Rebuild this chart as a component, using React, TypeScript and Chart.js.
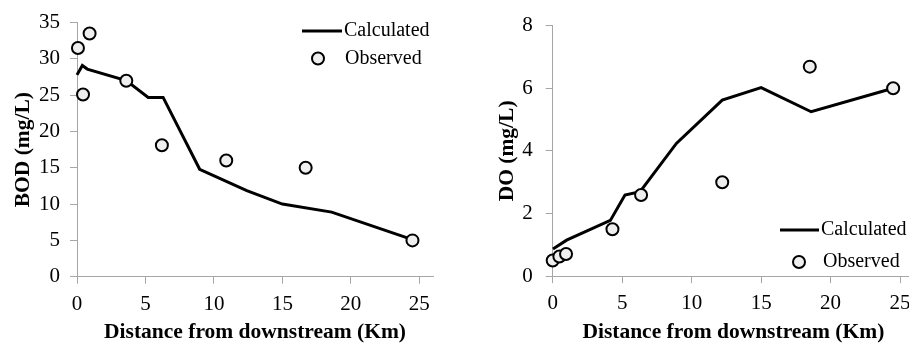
import React, { useEffect, useRef } from 'react';
import { Chart, registerables } from 'chart.js';

Chart.register(...registerables);

// ---- Data ----
const xTickValues = [0, 5, 10, 15, 20, 25];
const bodTickValues = [0, 5, 10, 15, 20, 25, 30, 35];
const doTickValues = [0, 2, 4, 6, 8];

const bodCalcX = [0, 0.39, 0.75, 3.6, 5.2, 6.29, 8.96, 12.4, 15.0, 18.6, 24.5];
const bodCalcY = [27.8, 29.1, 28.6, 27.0, 24.7, 24.7, 14.8, 11.85, 10.0, 8.9, 5.1];
const bodObsX = [0.07, 0.92, 0.44, 3.6, 6.2, 10.9, 16.7, 24.5];
const bodObsY = [31.5, 33.5, 25.1, 27.0, 18.1, 16.0, 15.0, 5.0];

const doCalcX = [0.02, 1.0, 4.15, 5.2, 6.29, 8.9, 12.2, 15.0, 18.6, 24.5];
const doCalcY = [0.87, 1.15, 1.78, 2.59, 2.7, 4.24, 5.62, 6.02, 5.25, 6.0];
const doObsX = [0, 0.48, 0.96, 4.3, 6.36, 12.2, 18.5, 24.5];
const doObsY = [0.5, 0.63, 0.71, 1.5, 2.59, 3.0, 6.69, 6.0];

const FAMILY = "'Liberation Serif', 'Times New Roman', serif";
const AXIS_GRAY = '#A6A6A6';
const MARKER_FILL = '#EFEFEF';
const TICK_SIZE = 21;
const LEGEND_SIZE = 20;

const legendPlugin = {
  id: 'simpleLegend',
  afterDatasetsDraw(chart: any, _args: any, opts: any) {
    if (!opts || !opts.items) return;
    const ctx = chart.ctx;
    ctx.save();
    ctx.font = `${LEGEND_SIZE}px ${FAMILY}`;
    ctx.fillStyle = '#000';
    ctx.textBaseline = 'middle';
    ctx.textAlign = 'left';
    for (const it of opts.items) {
      if (it.type === 'line') {
        ctx.strokeStyle = '#000';
        ctx.lineWidth = 3;
        ctx.beginPath();
        ctx.moveTo(it.x1, it.y);
        ctx.lineTo(it.x2, it.y);
        ctx.stroke();
      } else {
        ctx.beginPath();
        ctx.arc(it.cx, it.y, 6, 0, Math.PI * 2);
        ctx.fillStyle = MARKER_FILL;
        ctx.fill();
        ctx.strokeStyle = '#000';
        ctx.lineWidth = 2;
        ctx.stroke();
        ctx.fillStyle = '#000';
      }
      ctx.fillText(it.label, it.tx, it.y);
    }
    ctx.restore();
  },
};

function toPoints(xs: number[], ys: number[]) {
  return xs.map((x, i) => ({ x, y: ys[i] }));
}

function buildConfig(o: {
  calcX: number[]; calcY: number[]; obsX: number[]; obsY: number[];
  yTicks: number[]; yMax: number; yTitle: string;
  yAxisWidth: number; yTickPad: number; yTitlePad: number;
  top: number; right: number; xAxisHeight: number; legend: any;
}): any {
  return {
    type: 'scatter',
    data: {
      datasets: [
        {
          label: 'Observed',
          data: toPoints(o.obsX, o.obsY),
          showLine: false,
          pointRadius: 6,
          pointBorderWidth: 2,
          pointBackgroundColor: MARKER_FILL,
          pointBorderColor: '#000',
          clip: false,
          order: 0,
        },
        {
          label: 'Calculated',
          data: toPoints(o.calcX, o.calcY),
          showLine: true,
          pointRadius: 0,
          borderColor: '#000',
          borderWidth: 3,
          borderJoinStyle: 'miter',
          tension: 0,
          clip: false,
          order: 1,
        },
      ],
    },
    options: {
      responsive: false,
      animation: false,
      devicePixelRatio: 1,
      layout: { padding: { top: o.top, right: o.right, left: 0, bottom: 0 } },
      plugins: {
        legend: { display: false },
        tooltip: { enabled: false },
        simpleLegend: o.legend,
      },
      scales: {
        x: {
          type: 'linear',
          min: 0,
          max: 26,
          afterBuildTicks: (s: any) => { s.ticks = xTickValues.map((v) => ({ value: v })); },
          afterFit: (s: any) => { s.height = o.xAxisHeight; },
          grid: { drawOnChartArea: false, drawTicks: true, tickLength: 7, color: AXIS_GRAY },
          border: { display: true, color: AXIS_GRAY, width: 1 },
          ticks: { color: '#000', font: { family: FAMILY, size: TICK_SIZE }, padding: 8, maxRotation: 0, autoSkip: false },
          title: {
            display: true,
            text: 'Distance from downstream (Km)',
            color: '#000',
            font: { family: FAMILY, size: 21.5, weight: 'bold', lineHeight: 1 },
            padding: { top: 0, bottom: 0 },
          },
        },
        y: {
          type: 'linear',
          min: 0,
          max: o.yMax,
          afterBuildTicks: (s: any) => { s.ticks = o.yTicks.map((v) => ({ value: v })); },
          afterFit: (s: any) => { s.width = o.yAxisWidth; },
          grid: { drawOnChartArea: false, drawTicks: true, tickLength: 7, color: AXIS_GRAY },
          border: { display: true, color: AXIS_GRAY, width: 1 },
          ticks: { color: '#000', font: { family: FAMILY, size: TICK_SIZE }, padding: o.yTickPad, autoSkip: false },
          title: {
            display: true,
            text: o.yTitle,
            color: '#000',
            font: { family: FAMILY, size: 21.5, weight: 'bold', lineHeight: 1.2 },
            padding: { top: o.yTitlePad, bottom: 0 },
          },
        },
      },
    },
    plugins: [legendPlugin],
  };
}

function ChartCanvas({ config, width, height }: { config: () => any; width: number; height: number }) {
  const ref = useRef<HTMLCanvasElement>(null);
  useEffect(() => {
    const chart = new Chart(ref.current as HTMLCanvasElement, config());
    return () => chart.destroy();
  }, []);
  return <canvas ref={ref} width={width} height={height} style={{ width, height, display: 'block' }} />;
}

export default function App() {
  const left = () =>
    buildConfig({
      calcX: bodCalcX, calcY: bodCalcY, obsX: bodObsX, obsY: bodObsY,
      yTicks: bodTickValues, yMax: 35, yTitle: 'BOD (mg/L)',
      yAxisWidth: 77, yTickPad: 10, yTitlePad: 10.5,
      top: 20.7, right: 22, xAxisHeight: 66.3,
      legend: {
        items: [
          { type: 'line', x1: 302, x2: 342, y: 31, tx: 344, label: 'Calculated' },
          { type: 'point', cx: 318, y: 58.5, tx: 345, label: 'Observed' },
        ],
      },
    });
  const right = () =>
    buildConfig({
      calcX: doCalcX, calcY: doCalcY, obsX: doObsX, obsY: doObsY,
      yTicks: doTickValues, yMax: 8, yTitle: 'DO (mg/L)',
      yAxisWidth: 92.7, yTickPad: 13, yTitlePad: 34.4,
      top: 20.7, right: 16, xAxisHeight: 66.8,
      legend: {
        items: [
          { type: 'line', x1: 320, x2: 359, y: 230, tx: 361, label: 'Calculated' },
          { type: 'point', cx: 339, y: 262, tx: 363, label: 'Observed' },
        ],
      },
    });
  return (
    <div style={{ position: 'absolute', left: 0, top: 0, width: 909, height: 343, overflow: 'hidden', background: '#fff' }}>
      <div style={{ position: 'absolute', left: 0, top: 0, width: 455, height: 343 }}>
        <ChartCanvas config={left} width={455} height={343} />
      </div>
      <div style={{ position: 'absolute', left: 460, top: 0, width: 449, height: 343, overflow: 'hidden' }}>
        <ChartCanvas config={right} width={470} height={343} />
      </div>
    </div>
  );
}
